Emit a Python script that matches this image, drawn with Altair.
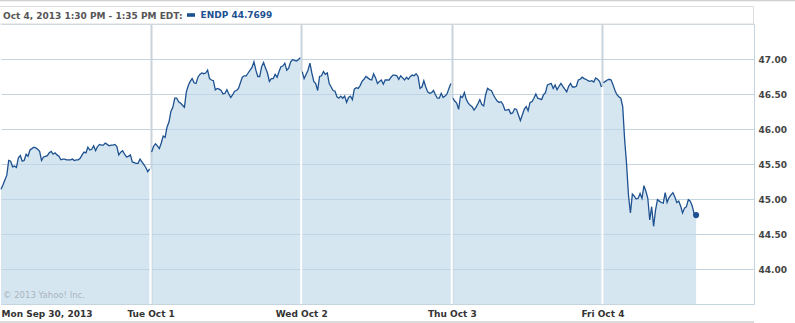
import json
import altair as alt
import pandas as pd

# ---- data ----
day_labels = ["Mon Sep 30, 2013", "Tue Oct 1", "Wed Oct 2", "Thu Oct 3", "Fri Oct 4"]
header_text = "Oct 4, 2013 1:30 PM - 1:35 PM EDT:"
series_label = "ENDP 44.7699"
copyright_text = "\u00a9 2013 Yahoo! Inc."

mon = [45.14, 45.20, 45.27, 45.34, 45.55, 45.54, 45.46, 45.47, 45.45, 45.59,
       45.62, 45.54, 45.55, 45.64, 45.61, 45.70, 45.72, 45.74, 45.73, 45.71,
       45.68, 45.55, 45.60, 45.61, 45.62, 45.66, 45.68, 45.64, 45.66, 45.63,
       45.61, 45.56, 45.57, 45.57, 45.56, 45.56, 45.56, 45.57, 45.55, 45.56,
       45.56, 45.58, 45.63, 45.67, 45.66, 45.74, 45.70, 45.71, 45.76, 45.69,
       45.75, 45.78, 45.77, 45.77, 45.80, 45.78, 45.76, 45.77, 45.77, 45.78,
       45.75, 45.63, 45.67, 45.69, 45.64, 45.60, 45.61, 45.63, 45.53, 45.52,
       45.51, 45.51, 45.57, 45.53, 45.49, 45.45, 45.39, 45.43]
tue = [45.67, 45.75, 45.79, 45.76, 45.72, 45.80, 45.90, 45.88, 46.03, 46.10,
       46.25, 46.31, 46.44, 46.44, 46.39, 46.37, 46.34, 46.31, 46.53, 46.62,
       46.68, 46.72, 46.66, 46.65, 46.74, 46.78, 46.80, 46.79, 46.80, 46.84,
       46.72, 46.70, 46.69, 46.56, 46.58, 46.57, 46.55, 46.50, 46.51, 46.56,
       46.50, 46.45, 46.49, 46.54, 46.55, 46.58, 46.66, 46.74, 46.76, 46.76,
       46.80, 46.84, 46.88, 46.96, 46.84, 46.75, 46.75, 46.89, 46.95, 46.87,
       46.80, 46.68, 46.72, 46.72, 46.78, 46.74, 46.82, 46.89, 46.90, 46.94,
       46.84, 46.87, 46.96, 46.99, 46.98, 46.97, 46.99, 47.02]
wed = [46.82, 46.72, 46.78, 46.84, 46.94, 46.80, 46.68, 46.65, 46.55, 46.75,
       46.76, 46.82, 46.78, 46.80, 46.65, 46.60, 46.55, 46.54, 46.46, 46.44,
       46.47, 46.44, 46.47, 46.38, 46.45, 46.47, 46.42, 46.57, 46.59, 46.58,
       46.62, 46.68, 46.71, 46.75, 46.73, 46.71, 46.70, 46.79, 46.73, 46.65,
       46.68, 46.70, 46.64, 46.70, 46.70, 46.70, 46.74, 46.77, 46.77, 46.76,
       46.71, 46.76, 46.73, 46.70, 46.74, 46.71, 46.75, 46.77, 46.76, 46.79,
       46.75, 46.58, 46.60, 46.69, 46.60, 46.53, 46.51, 46.52, 46.55, 46.49,
       46.44, 46.44, 46.51, 46.45, 46.47, 46.50, 46.58, 46.65]
thu = [46.44, 46.40, 46.37, 46.28, 46.47, 46.45, 46.52, 46.42, 46.37, 46.34,
       46.32, 46.27, 46.31, 46.36, 46.42, 46.35, 46.33, 46.49, 46.58, 46.56,
       46.55, 46.49, 46.44, 46.40, 46.38, 46.39, 46.35, 46.27, 46.27, 46.28,
       46.22, 46.23, 46.29, 46.28, 46.20, 46.12, 46.20, 46.28, 46.32, 46.26,
       46.38, 46.39, 46.44, 46.50, 46.44, 46.43, 46.42, 46.49, 46.52, 46.63,
       46.64, 46.65, 46.58, 46.63, 46.56, 46.61, 46.65, 46.61, 46.57, 46.53,
       46.61, 46.65, 46.60, 46.60, 46.61, 46.70, 46.71, 46.74, 46.72, 46.71,
       46.69, 46.68, 46.69, 46.67, 46.73, 46.71, 46.68, 46.60]
fri = [46.66, 46.68, 46.70, 46.71, 46.70, 46.63, 46.55, 46.49, 46.46, 46.44,
       46.32, 45.85, 45.50, 45.05, 44.80, 45.07, 45.04, 45.00, 45.01, 45.08,
       45.01, 45.19, 45.11, 45.01, 44.70, 44.89, 44.61, 44.84, 44.99, 44.97,
       44.95, 44.94, 45.09, 44.95, 45.02, 45.06, 45.09, 45.03, 44.95, 44.97,
       44.90, 44.80, 44.87, 44.89, 44.99, 44.97, 44.90, 44.79, 44.7699]

slots_per_day = 78          # 5-minute bars, 9:30 - 16:00
n_days = 5
y_ticks = [43.5, 44.0, 44.5, 45.0, 45.5, 46.0, 46.5, 47.0, 47.5]

# ---- tables built from the arrays ----
days = [mon, tue, wed, thu, fri]
rows = []
for d, vals in enumerate(days):
    for i, v in enumerate(vals):
        rows.append({"day": d, "slot": d * slots_per_day + i, "price": v})
df = pd.DataFrame(rows)
df["series"] = series_label
df["last"] = False
df.loc[df.index[-1], "last"] = True

sep_rows = []
for d in range(1, n_days):
    sep_rows.append({"slot": d * slots_per_day - 0.5,
                     "price": min(days[d - 1][-1], days[d][0])})
sep = pd.DataFrame(sep_rows)

x_ticks = [0] + [d * slots_per_day - 0.5 for d in range(1, n_days)]
y_lo, y_hi = y_ticks[0], y_ticks[-1]

FONT = "DejaVu Sans"
LINE = "#1d5190"
GRID = "#c5d5e0"
one = pd.DataFrame({"k": [0]})

x_scale = alt.Scale(domain=[0, n_days * slots_per_day], nice=False, zero=False)
y_scale = alt.Scale(domain=[y_lo, y_hi], nice=False, zero=False)

x_axis = alt.Axis(
    values=x_ticks, title=None, ticks=False, domainColor=GRID,
    grid=True, gridWidth=2,
    gridColor=alt.condition("datum.value === 0", alt.value("rgba(0,0,0,0)"), alt.value("#c9d4dc")),
    labelExpr=f"{json.dumps(day_labels)}[round((datum.value + 0.5) / {slots_per_day})]",
    labelFlush=True, labelOverlap=False, labelPadding=5,
    labelFont=FONT, labelFontSize=9, labelFontWeight="bold", labelColor="#333333",
)
y_axis = alt.Axis(
    values=y_ticks, orient="right", title=None, ticks=False, domainColor=GRID,
    grid=True, gridColor=GRID,
    labelExpr=f"(datum.value === {y_lo} || datum.value === {y_hi}) ? '' : format(datum.value, '.2f')",
    labelPadding=4, labelOverlap=False,
    labelFont=FONT, labelFontSize=9, labelFontWeight="bold", labelColor="#444444",
)

X = alt.X("slot:Q", scale=x_scale, axis=x_axis)
Y = alt.Y("price:Q", scale=y_scale, axis=y_axis)

base = alt.Chart(df)

area = base.mark_area(fill="#bbd5e8", fillOpacity=0.6).encode(
    x=X, y=Y, y2=alt.datum(y_lo), detail="day:N",
)

seps = alt.Chart(sep).mark_rule(color="white", strokeWidth=2).encode(
    x=X, y=Y, y2=alt.datum(y_lo),
)

line = base.mark_line(color=LINE, strokeWidth=1.3).encode(
    x=X, y=Y, detail="day:N",
)

dot = base.transform_filter("datum.last").mark_point(filled=True, size=38, opacity=1).encode(
    x=X, y=Y,
    color=alt.Color("series:N", scale=alt.Scale(range=[LINE]), legend=alt.Legend(
        title=None, orient="none", legendX=185.5, legendY=-13.5,
        symbolType="M-1,-0.45H1V0.45H-1Z", symbolSize=64, symbolStrokeWidth=0,
        labelFont=FONT, labelFontSize=9, labelFontWeight="bold", labelColor=LINE,
        labelOffset=5, padding=0,
    )),
)

top_line = alt.Chart(one).mark_rect(fill="#d0d0d0").encode(
    x=alt.value(-1), x2=alt.value(794), y=alt.value(-24), y2=alt.value(-22.8))
header_box = alt.Chart(one).mark_rect(fill="white", stroke="#dddddd", strokeWidth=1).encode(
    x=alt.value(-1.5), x2=alt.value(752.5), y=alt.value(-17.5), y2=alt.value(0))
bottom_band = alt.Chart(one).mark_rect(fill="#dcdcdc").encode(
    x=alt.value(-1), x2=alt.value(753), y=alt.value(297), y2=alt.value(299))

header = alt.Chart(pd.DataFrame({"t": [header_text]})).mark_text(
    align="left", baseline="alphabetic", font=FONT, fontSize=9, fontWeight="bold", color="#555555"
).encode(x=alt.value(2), y=alt.value(-4.7), text="t:N")

copyright_mark = alt.Chart(pd.DataFrame({"t": [copyright_text]})).mark_text(
    align="left", baseline="alphabetic", font=FONT, fontSize=8.5, color="#aab4be"
).encode(x=alt.value(2), y=alt.value(273.5), text="t:N")

chart = alt.layer(
    area, top_line, header_box, seps, copyright_mark, line, dot, header, bottom_band
).properties(
    width=753, height=280,
    autosize=alt.AutoSizeParams(type="none"),
    padding={"left": 1, "top": 24, "right": 41, "bottom": 19},
    background="white",
).configure_view(stroke=None)

chart.save("out.html", embed_options={"renderer": "svg", "actions": False})
